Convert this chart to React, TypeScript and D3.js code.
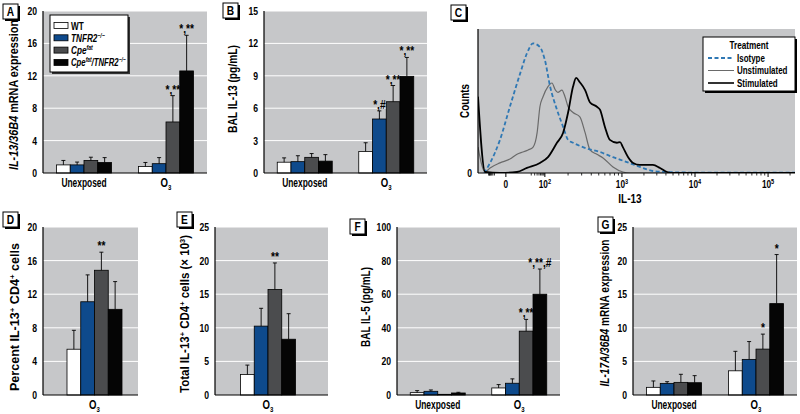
import React from "react";
import * as d3 from "d3";

const FONT = "'Liberation Sans', Arial, sans-serif";
const BG = "#c6c7c9";
const groupKeys = ["WT", "TNFR2", "Cpe", "CpeTNFR2"];
const groupColors = ["#ffffff", "#0e4a8c", "#4b4c4e", "#050505"];

// ---- Panel A: IL-13/36B4 mRNA expression
const aCategories = ["Unexposed", "O3"];
const aUnexposed = [1.0, 1.0, 1.55, 1.3];
const aUnexposedSD = [0.55, 0.35, 0.4, 0.6];
const aO3 = [0.8, 1.15, 6.3, 12.6];
const aO3SD = [0.5, 0.75, 3.25, 4.4];
const aO3Marks = ["", "", "*,**", "*,**"];
const aTicks = [0, 4, 8, 12, 16, 20];

// ---- Panel B: BAL IL-13 (pg/mL)
const bCategories = ["Unexposed", "O3"];
const bUnexposed = [1.0, 1.05, 1.45, 1.1];
const bUnexposedSD = [0.4, 0.55, 0.35, 0.6];
const bO3 = [2.0, 5.0, 6.6, 8.95];
const bO3SD = [0.8, 0.75, 1.5, 1.75];
const bO3Marks = ["", "*,#", "*,**", "*,**"];
const bTicks = [0, 3, 6, 9, 12, 15];

// ---- Panel C: flow histogram (display channel vs counts)
const cTickLabels = ["0", "10^2", "10^3", "10^4", "10^5"];
const cTickChannels = [90, 216, 465, 701, 937];
const cIsotype: [number, number][] = [
  [20, 0], [39, 7], [71, 23], [103, 46], [136, 69], [158, 83], [178, 90], [200, 87.5],
  [216, 78.5], [233, 60], [255, 44], [275, 32], [291, 23], [307, 21], [352, 17], [394, 14.6],
  [436, 11], [481, 7.6], [523, 4.2], [565, 1.4], [611, 0.7], [700, 0.3], [1024, 0.3],
];
const cUnstimulated: [number, number][] = [
  [0, 18], [23, 0.7], [39, 3.5], [71, 7], [103, 9.7], [126, 13], [145, 14.6], [162, 16],
  [178, 18], [191, 28], [200, 46], [210, 53], [226, 60], [239, 62.5], [249, 58], [258, 56],
  [271, 57.6], [281, 53], [291, 46], [307, 42], [329, 39], [346, 28], [362, 16], [384, 13],
  [404, 10.4], [436, 4.2], [468, 0.7], [491, 0], [1024, 0],
];
const cStimulated: [number, number][] = [
  [0, 53], [23, 0.7], [71, 0], [126, 0.7], [158, 3.5], [200, 7], [226, 11], [255, 21],
  [275, 28], [291, 42], [307, 60], [317, 66], [329, 63], [346, 57.6], [362, 49], [384, 46],
  [394, 44], [410, 32], [426, 23], [449, 21], [459, 21.5], [468, 18], [485, 11], [501, 7],
  [523, 5.6], [565, 5.6], [588, 3.5], [611, 0.7], [630, 0], [1024, 0],
];
const cLegend = ["Isotype", "Unstimulated", "Stimulated"];

// ---- Panel D: Percent IL-13+ CD4+ cells
const dCategories = ["O3"];
const dO3 = [5.45, 11.1, 14.85, 10.2];
const dO3SD = [2.25, 3.2, 2.15, 3.3];
const dO3Marks = ["", "", "**", ""];
const dTicks = [0, 4, 8, 12, 16, 20];

// ---- Panel E: Total IL-13+ CD4+ cells (x 10^3)
const eCategories = ["O3"];
const eO3 = [3.05, 10.25, 15.7, 8.3];
const eO3SD = [1.4, 2.65, 3.95, 3.8];
const eO3Marks = ["", "", "**", ""];
const eTicks = [0, 5, 10, 15, 20, 25];

// ---- Panel F: BAL IL-5 (pg/mL)
const fCategories = ["Unexposed", "O3"];
const fUnexposed = [1.4, 2.2, 0.4, 1.2];
const fUnexposedSD = [1.2, 0.8, 0, 0.4];
const fO3 = [4.2, 7.0, 38, 60];
const fO3SD = [2.0, 2.6, 7, 15];
const fO3Marks = ["", "", "*,**", "*,**,#"];
const fTicks = [0, 20, 40, 60, 80, 100];

// ---- Panel G: IL-17A/36B4 mRNA expression
const gCategories = ["Unexposed", "O3"];
const gUnexposed = [1.14, 1.73, 1.88, 1.83];
const gUnexposedSD = [0.95, 0.25, 1.2, 1.05];
const gO3 = [3.6, 5.3, 6.83, 13.6];
const gO3SD = [2.9, 2.65, 2.23, 7.3];
const gO3Marks = ["", "", "*", "*"];
const gTicks = [0, 5, 10, 15, 20, 25];

type TProps = {
  x: number; y: number; size: number; sx?: number; anchor?: "start" | "middle" | "end";
  italic?: boolean; rotate?: number; dy?: string; children: React.ReactNode; fill?: string;
};
function T({ x, y, size, sx = 0.78, anchor = "start", italic, rotate, dy, children, fill }: TProps) {
  const tr = `translate(${x},${y})${rotate ? ` rotate(${rotate})` : ""} scale(${sx},1)`;
  return (
    <text transform={tr} fontSize={size} textAnchor={anchor} fontWeight="bold" fontStyle={italic ? "italic" : undefined} dy={dy} fill={fill}>
      {children}
    </text>
  );
}

function YLabel({ x, cy, len, children }: { x: number; cy: number; len: number; children: React.ReactNode }) {
  return (
    <text
      transform={`translate(${x},${cy}) rotate(-90)`}
      x={-len / 2}
      dy="0.35em"
      fontSize={12.5}
      fontWeight="bold"
      textLength={len}
      lengthAdjust="spacingAndGlyphs"
    >
      {children}
    </text>
  );
}

function CatLabel({ c, x, y }: { c: string; x: number; y: number }) {
  if (c === "O3") {
    return (
      <T x={x} y={y} size={12} sx={0.8} anchor="middle">
        O<tspan fontSize={7.5} dy={2.5}>3</tspan>
      </T>
    );
  }
  return (
    <T x={x} y={y} size={12} sx={0.7} anchor="middle">
      {c}
    </T>
  );
}

function PanelLetter({ x, y, letter }: { x: number; y: number; letter: string }) {
  return (
    <g>
      <rect x={x + 2} y={y + 2} width={15} height={15} fill="#000" />
      <rect x={x} y={y} width={15} height={15} fill="#fff" stroke="#000" strokeWidth={1} />
      <T x={x + 7.5} y={y + 12} size={12} sx={0.85} anchor="middle">
        {letter}
      </T>
    </g>
  );
}

type BarPanelProps = {
  x0: number; x1: number; y0: number; y1: number;
  band?: [number, number];
  yMax: number; ticks: number[];
  categories: string[];
  means: number[][]; sds: number[][]; marks: string[][];
  yLabel: React.ReactNode; yLabelX: number; yLabelCy: number; yLabelLen: number;
};

function BarPanel(p: BarPanelProps) {
  const y = d3.scaleLinear().domain([0, p.yMax]).range([p.y1, p.y0]);
  const cx = d3.scalePoint<string>().domain(p.categories).range(p.band ?? [p.x0, p.x1]).padding(0.5);
  const inner = d3.scaleBand<string>().domain(groupKeys).range([-27.5, 27.5]);
  const bw = inner.bandwidth();
  return (
    <g>
      <rect x={p.x0} y={p.y0} width={p.x1 - p.x0} height={p.y1 - p.y0} fill={BG} />
      {p.ticks.filter((t) => t > 0).map((t) => (
        <line key={t} x1={p.x0} x2={p.x1} y1={y(t)} y2={y(t)} stroke="#fff" strokeWidth={1} />
      ))}
      {p.categories.map((c, ci) => (
        <g key={c}>
          {groupKeys.map((g, gi) => {
            const m = p.means[ci][gi];
            const s = p.sds[ci][gi];
            const bx = (cx(c) as number) + (inner(g) as number);
            const mid = bx + bw / 2;
            return (
              <g key={g}>
                <rect x={bx} y={y(m)} width={bw} height={y(0) - y(m)} fill={groupColors[gi]} stroke="#000" strokeWidth={0.8} />
                {s > 0 && (
                  <g stroke="#000" strokeWidth={0.9}>
                    <line x1={mid} x2={mid} y1={y(m)} y2={y(m + s)} />
                    <line x1={mid - 2} x2={mid + 2} y1={y(m + s)} y2={y(m + s)} />
                  </g>
                )}
                {p.marks[ci][gi] && (
                  <T x={mid} y={y(m + s) - 2} size={12} sx={0.85} anchor="middle">
                    {p.marks[ci][gi]}
                  </T>
                )}
              </g>
            );
          })}
          <CatLabel c={c} x={cx(c) as number} y={p.y1 + 14} />
        </g>
      ))}
      <line x1={p.x0} x2={p.x0} y1={p.y0} y2={p.y1} stroke="#000" strokeWidth={1.2} />
      <line x1={p.x0} x2={p.x1} y1={p.y1} y2={p.y1} stroke="#000" strokeWidth={1.2} />
      {p.ticks.map((t) => (
        <T key={t} x={p.x0 - 6} y={y(t)} dy="0.35em" size={11.5} sx={0.75} anchor="end">
          {t}
        </T>
      ))}
      <YLabel x={p.yLabelX} cy={p.yLabelCy} len={p.yLabelLen}>
        {p.yLabel}
      </YLabel>
    </g>
  );
}

function Legend() {
  const x = 50, y = 15, w = 78, h = 57;
  const rows = [0, 1, 2, 3];
  const ry = (i: number) => y + 11 + i * 12.3;
  const tx = x + 21;
  return (
    <g>
      <rect x={x + 2} y={y + 2} width={w} height={h} fill="#333" />
      <rect x={x} y={y} width={w} height={h} fill="#fff" stroke="#000" strokeWidth={1} />
      {rows.map((i) => (
        <rect key={i} x={x + 4} y={ry(i) - 3.5} width={14} height={6} fill={groupColors[i]} stroke="#000" strokeWidth={0.8} />
      ))}
      <T x={tx} y={ry(0) + 3.5} size={10.5}>WT</T>
      <T x={tx} y={ry(1) + 3.5} size={10.5} italic>
        TNFR2<tspan fontSize={6.5} dy={-4}>−/−</tspan>
      </T>
      <T x={tx} y={ry(2) + 3.5} size={10.5} italic>
        Cpe<tspan fontSize={6.5} dy={-4}>fat</tspan>
      </T>
      <T x={tx} y={ry(3) + 3.5} size={10.5} sx={0.74} italic>
        Cpe<tspan fontSize={6.5} dy={-4}>fat</tspan>
        <tspan dy={4}>/TNFR2</tspan>
        <tspan fontSize={6.5} dy={-4}>−/−</tspan>
      </T>
    </g>
  );
}

function FlowPanel() {
  const x0 = 478, x1 = 795, y0 = 29, y1 = 173;
  const xs = d3.scaleLinear().domain([0, 1024]).range([x0, x1]);
  const ys = d3.scaleLinear().domain([0, 100]).range([y1, y0]);
  const line = d3
    .line<[number, number]>()
    .x((d) => xs(d[0]))
    .y((d) => ys(d[1]))
    .curve(d3.curveMonotoneX);
  const minor: number[] = [];
  for (let k = 0; k < cTickChannels.length - 1; k++) {
    const a = cTickChannels[k], b = cTickChannels[k + 1];
    for (let m = 2; m <= 9; m++) {
      if (k === 0) minor.push(a + (b - a) * (Math.log10(m * 10) / 2));
      else minor.push(a + (b - a) * Math.log10(m));
    }
  }
  const aLast = cTickChannels[cTickChannels.length - 2];
  const bLast = cTickChannels[cTickChannels.length - 1];
  for (let m = 2; m <= 3; m++) minor.push(bLast + (bLast - aLast) * Math.log10(m));
  for (let m = 2; m <= 9; m++) minor.push(cTickChannels[0] - (cTickChannels[1] - cTickChannels[0]) * (Math.log10(m * 10) / 2) * 0.45);
  const fmt = (s: string) => {
    const parts = s.split("^");
    if (parts.length === 1) return <>{s}</>;
    return (
      <>
        {parts[0]}
        <tspan fontSize={7.5} dy={-4}>{parts[1]}</tspan>
      </>
    );
  };
  const lx = 703, ly = 37, lw = 92, lh = 54;
  return (
    <g>
      <defs>
        <clipPath id="cclip">
          <rect x={x0} y={y0 - 2} width={x1 - x0} height={y1 - y0 + 2} />
        </clipPath>
      </defs>
      <rect x={x0} y={y0} width={x1 - x0} height={y1 - y0} fill={BG} />
      <g clipPath="url(#cclip)" fill="none">
        <path d={line(cUnstimulated) || ""} stroke="#6a6a6a" strokeWidth={1.2} />
        <path d={line(cIsotype) || ""} stroke="#2f78b4" strokeWidth={1.8} strokeDasharray="4,2.5" />
        <path d={line(cStimulated) || ""} stroke="#000" strokeWidth={1.8} />
      </g>
      <line x1={x0} x2={x0} y1={y0} y2={y1} stroke="#000" strokeWidth={1.2} />
      <line x1={x0} x2={x1} y1={y1} y2={y1} stroke="#000" strokeWidth={1.2} />
      {cTickChannels.map((c) => (
        <line key={c} x1={xs(c)} x2={xs(c)} y1={y1} y2={y1 + 4} stroke="#000" strokeWidth={1} />
      ))}
      {minor.filter((c) => c > 0 && c < 1024).map((c, i) => (
        <line key={i} x1={xs(c)} x2={xs(c)} y1={y1} y2={y1 + 2.5} stroke="#000" strokeWidth={0.8} />
      ))}
      {cTickChannels.map((c, i) => (
        <T key={c} x={xs(c)} y={y1 + 15} size={11} sx={0.75} anchor="middle">
          {fmt(cTickLabels[i])}
        </T>
      ))}
      <T x={x0 - 6} y={y1} dy="0.35em" size={11.5} sx={0.75} anchor="end">0</T>
      <YLabel x={465} cy={(y0 + y1) / 2} len={34}>Counts</YLabel>
      <T x={630} y={203} size={12.5} sx={0.8} anchor="middle">IL-13</T>
      <rect x={lx + 2} y={ly + 2} width={lw} height={lh} fill="#000" />
      <rect x={lx} y={ly} width={lw} height={lh} fill="#fff" stroke="#000" strokeWidth={1} />
      <T x={lx + 46} y={ly + 12} size={10.5} anchor="middle">Treatment</T>
      {cLegend.map((t, i) => {
        const yy = ly + 21 + i * 12.5;
        const st =
          i === 0
            ? { stroke: "#2f78b4", strokeWidth: 1.8, strokeDasharray: "4,2.5" }
            : i === 1
            ? { stroke: "#6a6a6a", strokeWidth: 1 }
            : { stroke: "#000", strokeWidth: 1.6 };
        return (
          <g key={t}>
            <line x1={lx + 5} x2={lx + 31} y1={yy} y2={yy} {...st} />
            <T x={lx + 34} y={yy + 3.5} size={10.5} sx={0.76}>{t}</T>
          </g>
        );
      })}
    </g>
  );
}

const supPlus = (key: string) => (
  <tspan key={key} fontSize={8} dy={-4}>+</tspan>
);

export default function App() {
  return (
    <svg
      width={800}
      height={414}
      style={{ position: "absolute", left: 0, top: 0, background: "#fff" }}
      fontFamily={FONT}
    >
      <BarPanel
        x0={43} x1={207} y0={11} y1={173} yMax={20} ticks={aTicks}
        categories={aCategories}
        means={[aUnexposed, aO3]} sds={[aUnexposedSD, aO3SD]} marks={[["", "", "", ""], aO3Marks]}
        yLabelX={14} yLabelCy={95} yLabelLen={150}
        yLabel={<><tspan fontStyle="italic">IL-13/36B4</tspan> mRNA expression</>}
      />
      <Legend />
      <PanelLetter x={3} y={4} letter="A" />

      <BarPanel
        x0={264} x1={427} y0={11} y1={173} yMax={15} ticks={bTicks}
        categories={bCategories}
        means={[bUnexposed, bO3]} sds={[bUnexposedSD, bO3SD]} marks={[["", "", "", ""], bO3Marks]}
        yLabelX={233} yLabelCy={89} yLabelLen={88}
        yLabel={<>BAL IL-13 (pg/mL)</>}
      />
      <PanelLetter x={223} y={3} letter="B" />

      <FlowPanel />
      <PanelLetter x={451} y={5} letter="C" />

      <BarPanel
        x0={43} x1={138} band={[43, 146]} y0={227} y1={395} yMax={20} ticks={dTicks}
        categories={dCategories}
        means={[dO3]} sds={[dO3SD]} marks={[dO3Marks]}
        yLabelX={15} yLabelCy={317} yLabelLen={148}
        yLabel={<>Percent IL-13{supPlus("a")}<tspan dy={4}> CD4</tspan>{supPlus("b")}<tspan dy={4}> cells</tspan></>}
      />
      <PanelLetter x={3} y={212} letter="D" />

      <BarPanel
        x0={215} x1={328} band={[215, 321]} y0={227} y1={395} yMax={25} ticks={eTicks}
        categories={eCategories}
        means={[eO3]} sds={[eO3SD]} marks={[eO3Marks]}
        yLabelX={185} yLabelCy={314} yLabelLen={158}
        yLabel={<>Total IL-13{supPlus("a")}<tspan dy={4}> CD4</tspan>{supPlus("b")}<tspan dy={4}> cells (× 10</tspan><tspan fontSize={8} dy={-4}>3</tspan><tspan dy={4}>)</tspan></>}
      />
      <PanelLetter x={177} y={212} letter="E" />

      <BarPanel
        x0={397} x1={560} y0={227} y1={395} yMax={100} ticks={fTicks}
        categories={fCategories}
        means={[fUnexposed, fO3]} sds={[fUnexposedSD, fO3SD]} marks={[["", "", "", ""], fO3Marks]}
        yLabelX={366} yLabelCy={307} yLabelLen={80}
        yLabel={<>BAL IL-5 (pg/mL)</>}
      />
      <PanelLetter x={350} y={219} letter="F" />

      <BarPanel
        x0={633} x1={797} y0={227} y1={395} yMax={25} ticks={gTicks}
        categories={gCategories}
        means={[gUnexposed, gO3]} sds={[gUnexposedSD, gO3SD]} marks={[["", "", "", ""], gO3Marks]}
        yLabelX={605} yLabelCy={313} yLabelLen={147}
        yLabel={<><tspan fontStyle="italic">IL-17A/36B4</tspan> mRNA expression</>}
      />
      <PanelLetter x={598} y={217} letter="G" />
    </svg>
  );
}
